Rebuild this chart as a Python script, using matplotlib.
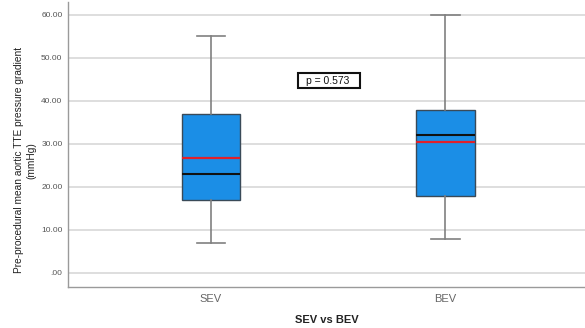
import matplotlib
matplotlib.use("Agg")
import matplotlib.pyplot as plt
from matplotlib.patches import Rectangle

# Group data (mean aortic TTE gradient, mmHg)
groups = ["SEV", "BEV"]
whisker_low = [7.0, 8.0]
q1 = [17.0, 18.0]
median = [23.0, 32.0]
q3 = [37.0, 38.0]
whisker_high = [55.0, 60.0]
mean = [26.7, 30.4]
y_ticks = [0, 10, 20, 30, 40, 50, 60]
y_tick_labels = [".00", "10.00", "20.00", "30.00", "40.00", "50.00", "60.00"]
p_text = "p = 0.573"

plt.rcParams["font.family"] = ["Liberation Sans", "DejaVu Sans"]

W, H = 585, 328
fig = plt.figure(figsize=(W / 100, H / 100), dpi=100)
ax = fig.add_axes([68 / W, 41 / H, 1 - 68 / W, 285 / H])

stats = []
for i, g in enumerate(groups):
    stats.append(dict(label=g, whislo=whisker_low[i], q1=q1[i], med=median[i],
                      q3=q3[i], whishi=whisker_high[i], fliers=[]))

positions = [1, 2]
ax.bxp(stats, positions=positions, widths=0.25, patch_artist=True,
       showfliers=False,
       boxprops=dict(facecolor="#1b8ee6", edgecolor="#3a4a58", linewidth=1.0),
       whiskerprops=dict(color="#808080", linewidth=1.2),
       capprops=dict(color="#808080", linewidth=1.2),
       capwidths=0.123,
       medianprops=dict(color="#111111", linewidth=1.5),
       zorder=3)

# mean markers as red lines across the boxes
for pos, m in zip(positions, mean):
    ax.hlines(m, pos - 0.125, pos + 0.125, color="#e0202a", linewidth=1.6, zorder=4)

ax.set_xlim(0.39, 2.595)
ax.set_ylim(-3.26, 63.0)
ax.set_yticks(y_ticks)
ax.set_yticklabels(y_tick_labels, fontsize=6, color="#555555")
ax.set_xticks(positions)
ax.set_xticklabels(groups, fontsize=8, color="#666666")
ax.tick_params(axis="both", length=0, pad=4)
ax.tick_params(axis="x", pad=5)

ax.yaxis.grid(True, color="#d8d8d8", linewidth=1.2, zorder=0)
ax.set_axisbelow(True)
for s in ["top", "right"]:
    ax.spines[s].set_visible(False)
for s in ["left", "bottom"]:
    ax.spines[s].set_color("#9a9a9a")
    ax.spines[s].set_linewidth(1.0)

ax.set_ylabel("Pre-procedural mean aortic TTE pressure gradient\n(mmHg)",
              fontsize=7.3, color="#222222", linespacing=1.25)
ax.yaxis.set_label_coords(-0.061, 0.445)
ax.set_xlabel("SEV vs BEV", fontsize=8, fontweight="bold", color="#222222", labelpad=8)

# p-value annotation with a framed box
fig.patches.append(Rectangle((298 / W, 1 - 88 / H), 62 / W, 15 / H,
                             transform=fig.transFigure, facecolor="white",
                             edgecolor="#111111", linewidth=1.5, zorder=5))
fig.text(328 / W, 1 - 81 / H, p_text, fontsize=7.5, color="#111111",
         ha="center", va="center", zorder=6)

fig.savefig("out.png", dpi=100)
